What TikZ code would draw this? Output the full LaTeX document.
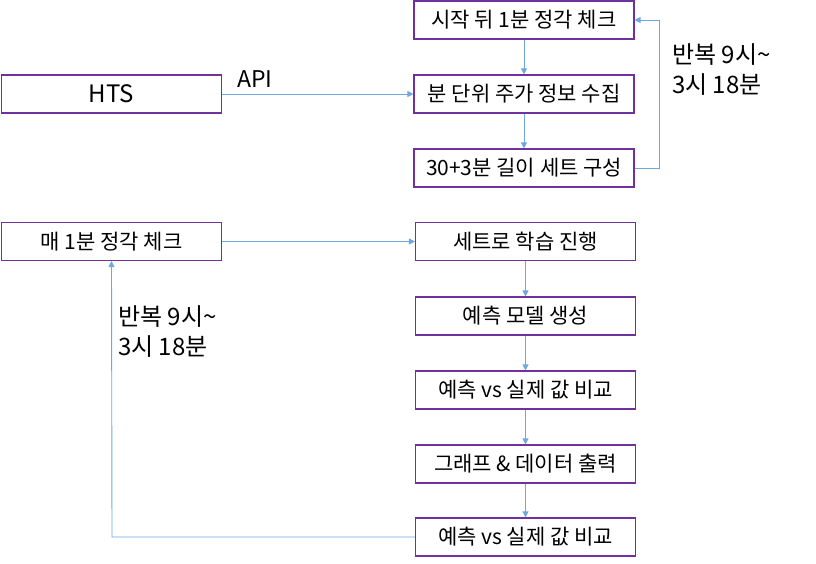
\documentclass[tikz,border=0pt]{standalone}
\usepackage{fontspec}
\setmainfont{Noto Sans CJK KR}
\usetikzlibrary{arrows.meta}
\definecolor{boxpurple}{HTML}{7030A0}
\definecolor{arrblue}{HTML}{6FA8DC}
\begin{document}
\begin{tikzpicture}[x=1pt,y=-1pt,
  stepbox/.style={draw=boxpurple,line width=1.1pt,minimum width=220pt,minimum height=38pt,inner sep=0pt,font=\fontsize{21}{24}\selectfont},
  conn/.style={draw=arrblue,line width=0.9pt,-{Triangle[length=6pt,width=6pt]}},
  lbl/.style={font=\fontsize{24}{30}\selectfont,align=left,inner sep=0pt}]
\useasboundingbox (0,0) rectangle (816,564);
\node[stepbox] (a1) at (524,20) {시작 뒤 1분 정각 체크};
\node[stepbox] (a2) at (524,94) {분 단위 주가 정보 수집};
\node[stepbox] (a3) at (524,168) {30+3분 길이 세트 구성};
\node[stepbox,font=\fontsize{24}{28}\selectfont] (hts) at (111.5,94) {HTS};
\node[lbl,font=\fontsize{23}{28}\selectfont,anchor=west] (api) at (237,79) {API};
\draw[conn] (hts) -- (a2);
\draw[conn] (a1) -- (a2);
\draw[conn] (a2) -- (a3);
\coordinate (r1) at (659,168);
\coordinate (r2) at (659,20);
\draw[conn] (a3.east) -- (r1) -- (r2) -- (a1.east);
\node[lbl,anchor=north west] (rep1) at (672,43) {반복 9시\textasciitilde\\3시 18분};

\node[stepbox] (b0) at (111.5,241.5) {매 1분 정각 체크};
\node[stepbox] (b1) at (525.5,241.5) {세트로 학습 진행};
\node[stepbox] (b2) at (525.5,316) {예측 모델 생성};
\node[stepbox] (b3) at (525.5,390) {예측 vs 실제 값 비교};
\node[stepbox] (b4) at (525.5,464) {그래프 \& 데이터 출력};
\node[stepbox] (b5) at (525.5,537) {예측 vs 실제 값 비교};
\draw[conn] (b0) -- (b1);
\draw[conn] (b1) -- (b2);
\draw[conn] (b2) -- (b3);
\draw[conn] (b3) -- (b4);
\draw[conn] (b4) -- (b5);
\coordinate (l1) at (112,537);
\draw[conn] (b5.west) -- (l1) -- (b0.south);
\node[lbl,anchor=north west] (rep2) at (118,305) {반복 9시\textasciitilde\\3시 18분};
\end{tikzpicture}
\end{document}
